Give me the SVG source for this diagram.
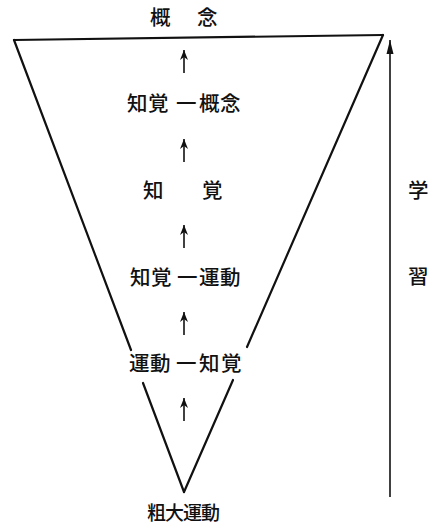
<svg xmlns="http://www.w3.org/2000/svg" width="432" height="525" viewBox="0 0 432 525">
<defs>
<style>
.t{font-family:"Noto Sans CJK JP","Noto Sans CJK SC",sans-serif;font-size:20.5px;font-weight:500;fill:#111}
.l{stroke:#111;stroke-width:2.2;fill:none;stroke-linecap:round}
.a{stroke:#111;stroke-width:1.6;fill:none}
</style>
<marker id="ah" viewBox="-11 -5 12 10" refX="0" refY="0" markerWidth="12" markerHeight="10" markerUnits="userSpaceOnUse" orient="auto">
<path d="M0,0 L-10,-4 L-7,0 L-10,4 Z" fill="#111"/>
</marker>
<marker id="bh" viewBox="-15 -5 16 10" refX="0" refY="0" markerWidth="16" markerHeight="10" markerUnits="userSpaceOnUse" orient="auto">
<path d="M0,0 L-14,-3.5 L-14,3.5 Z" fill="#111"/>
</marker>
</defs>
<g id="funnel">
<path class="l" d="M14,40 L383,35"/>
<path class="l" d="M14,40 L131,350"/>
<path class="l" d="M143,383 L184,492"/>
<path class="l" d="M383,35 L247,347"/>
<path class="l" d="M233,380 L184,492"/>
</g>
<g id="connectors">
<line class="a" x1="184" y1="73" x2="184" y2="50" marker-end="url(#ah)"/>
<line class="a" x1="184" y1="162" x2="184" y2="139" marker-end="url(#ah)"/>
<line class="a" x1="184" y1="248" x2="184" y2="225" marker-end="url(#ah)"/>
<line class="a" x1="184" y1="335" x2="184" y2="312" marker-end="url(#ah)"/>
<line class="a" x1="184" y1="421" x2="184" y2="398" marker-end="url(#ah)"/>
<line class="a" x1="390" y1="497" x2="390" y2="40" marker-end="url(#bh)"/>
</g>
<g id="n-gainen"><text class="t" x="150 197" y="25">概念</text></g>
<g id="n-chikaku-gainen"><text class="t" x="127 148 176 199 220" y="111">知覚一概念</text></g>
<g id="n-chikaku"><text class="t" x="143 202" y="198">知覚</text></g>
<g id="n-chikaku-undo"><text class="t" x="130 151 177 199 220" y="285">知覚一運動</text></g>
<g id="n-undo-chikaku"><text class="t" x="129 150 176 199 221" y="371">運動一知覚</text></g>
<g id="n-sodai"><text class="t" x="147 165 183 201" y="520" style="font-size:19px">粗大運動</text></g>
<g id="learning"><text class="t" x="408" y="198">学</text><text class="t" x="408" y="284">習</text></g>
</svg>
